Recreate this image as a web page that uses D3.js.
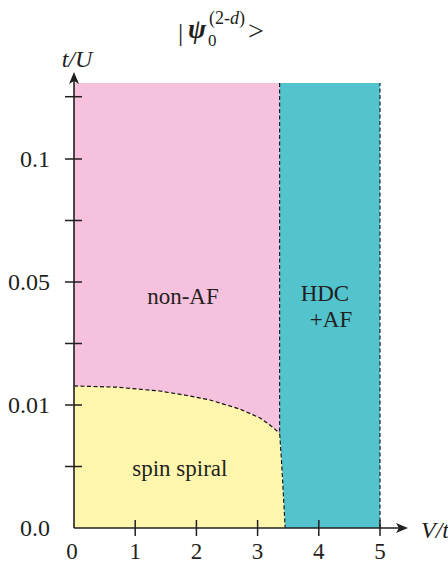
<!DOCTYPE html>
<html>
<head>
<meta charset="utf-8">
<script src="https://cdn.jsdelivr.net/npm/d3@7"></script>
<style>
  body { margin: 0; background: #fff; }
  svg text { font-family: "Liberation Serif", "DejaVu Serif", serif; fill: #231f20; }
</style>
</head>
<body>
<svg id="chart" width="448" height="565"></svg>
<script>
// Phase diagram for |psi_0^(2-d)>: V/t on x, t/U on a stretched y axis.
const xTicks = [0, 1, 2, 3, 4, 5];
const yTicks = [0, 0.01, 0.05, 0.1];
const yTickLabels = ["0.0", "0.01", "0.05", "0.1"];
const yMinorTicks = [0.005, 0.03, 0.075, 0.125];
const tTop = 0.1305;
const vMax = 5;

// spin spiral / non-AF boundary (V/t, t/U)
const spiralBoundary = [
  [0, 0.0162], [0.7, 0.0158], [1.4, 0.01455], [1.85, 0.0131], [2.22, 0.01163],
  [2.71, 0.00967], [3.04, 0.00894], [3.22, 0.0083], [3.36, 0.0077]
];
// left edge of the HDC+AF phase
const hdcBoundary = [
  [3.36, tTop], [3.36, 0.0077], [3.39, 0.0055], [3.42, 0.0028], [3.45, 0]
];
const labels = [
  { text: "non-AF", v: 1.78, t: 0.0452 },
  { text: "HDC", v: 4.1, t: 0.0462 },
  { text: "+AF", v: 4.2, t: 0.0375 },
  { text: "spin spiral", v: 1.73, t: 0.0048 }
];
const colors = { nonAF: "#f5c1dc", spiral: "#fff6ad", hdc: "#53c3cd" };

const svg = d3.select("#chart");
const x = d3.scaleLinear().domain([0, vMax]).range([74, 380]);
// piecewise scale: equal spacing between major ticks
const y = d3.scaleLinear().domain([0, 0.01, 0.05, 0.1, tTop]).range([528, 405, 282, 159, 83]);

const line = d3.line().x(d => x(d[0])).y(d => y(d[1]));

// non-AF background (left of HDC boundary)
svg.append("path")
  .attr("d", line([[0, 0], [0, tTop], ...hdcBoundary]) + "Z")
  .attr("fill", colors.nonAF);
// HDC+AF
svg.append("path")
  .attr("d", line([...hdcBoundary, [vMax, 0], [vMax, tTop]]) + "Z")
  .attr("fill", colors.hdc);
// spin spiral
const spiralFill = [[0, 0], ...spiralBoundary,
  ...hdcBoundary.filter(d => d[1] < 0.0077)];
svg.append("path")
  .attr("d", line(spiralFill) + "Z")
  .attr("fill", colors.spiral);

// dashed phase boundaries
const dashed = (pts, w) => svg.append("path")
  .attr("d", line(pts)).attr("fill", "none")
  .attr("stroke", "#111").attr("stroke-width", w || 1.1)
  .attr("stroke-dasharray", "4,2.5");
dashed(spiralBoundary, 1.2);
dashed(hdcBoundary);
dashed([[vMax, 0], [vMax, tTop]]);

// axes
const axisColor = "#231f20";
svg.append("line").attr("x1", x(0)).attr("x2", 400).attr("y1", y(0)).attr("y2", y(0))
  .attr("stroke", axisColor).attr("stroke-width", 1.6);
svg.append("path").attr("d", `M408,${y(0)} L396,${y(0) - 5} L399,${y(0)} L396,${y(0) + 5}Z`)
  .attr("fill", axisColor);
svg.append("line").attr("x1", x(0)).attr("x2", x(0)).attr("y1", y(0)).attr("y2", 80)
  .attr("stroke", axisColor).attr("stroke-width", 1.6);
svg.append("path").attr("d", `M${x(0)},72 L${x(0) - 5},84 L${x(0)},81 L${x(0) + 5},84Z`)
  .attr("fill", axisColor);

// x ticks
svg.append("g").selectAll("line").data(xTicks.slice(1)).join("line")
  .attr("x1", d => x(d)).attr("x2", d => x(d))
  .attr("y1", y(0) - 8).attr("y2", y(0) + 8)
  .attr("stroke", axisColor).attr("stroke-width", 1.5);
svg.append("g").selectAll("text").data(xTicks).join("text")
  .attr("x", d => x(d) - (d === 0 ? 2 : 0)).attr("y", 559).attr("text-anchor", "middle")
  .attr("font-size", 23).text(d => d);

// y ticks
svg.append("g").selectAll("line").data(yTicks.slice(1).concat(yMinorTicks)).join("line")
  .attr("x1", x(0) - 9).attr("x2", x(0) + 8)
  .attr("y1", d => y(d)).attr("y2", d => y(d))
  .attr("stroke", axisColor).attr("stroke-width", 1.5);
svg.append("g").selectAll("text").data(yTicks).join("text")
  .attr("x", 50).attr("y", d => y(d) + 8).attr("text-anchor", "end")
  .attr("font-size", 24).text((d, i) => yTickLabels[i]);

// axis titles
svg.append("text").attr("x", 77).attr("y", 67).attr("text-anchor", "middle")
  .attr("font-size", 24).attr("font-style", "italic").text("t/U");
svg.append("text").attr("x", 421).attr("y", 538)
  .attr("font-size", 24).attr("font-style", "italic").text("V/t");

// phase labels
svg.append("g").selectAll("text").data(labels).join("text")
  .attr("x", d => x(d.v)).attr("y", d => y(d.t) + 7).attr("text-anchor", "middle")
  .attr("font-size", 23).text(d => d.text);

// chart title |psi_0^(2-d)>
const title = svg.append("g");
title.append("text").attr("x", 178).attr("y", 41).attr("font-size", 26).text("|");
title.append("text").attr("x", 188).attr("y", 38).attr("font-size", 27)
  .attr("font-style", "italic").attr("font-weight", "bold").text("ψ");
title.append("text").attr("x", 208).attr("y", 46).attr("font-size", 17).text("0");
title.append("text").attr("x", 209).attr("y", 24).attr("font-size", 18)
  .html('(2-<tspan font-style="italic">d</tspan>)');
title.append("text").attr("x", 248).attr("y", 40).attr("font-size", 28).text(">");
</script>
</body>
</html>
